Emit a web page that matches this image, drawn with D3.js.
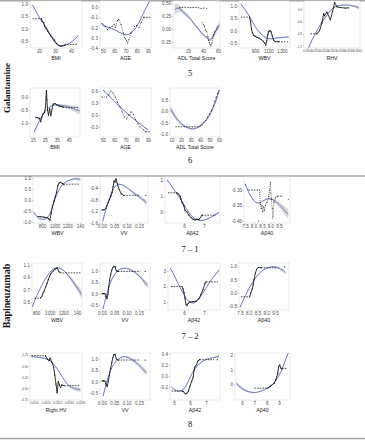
<!DOCTYPE html>
<html>
<head>
<meta charset="utf-8">
<script src="https://cdn.jsdelivr.net/npm/d3@7"></script>
<style>
  body { margin: 0; background: #fff; }
</style>
</head>
<body>
<div id="chart"></div>
<script>
// ---------- dades llegides del gràfic ----------
// fit = [x, y, banda], obs = línia negra, dash = trams discontinus, pts = punts solts

// Galantamine 5
const fit_5_bmi = [[16,0.95,0.05],[18,0.72],[20,0.48],[22,0.28],[24,0.1],[26,-0.12],[28,-0.35],[30,-0.55],[32,-0.67],[34,-0.7],[36,-0.68],[38,-0.62],[40,-0.55],[42,-0.45],[44.5,-0.28,0.05]];
const obs_5_bmi = [[21.5,0.4],[22,0.3],[23,0.25],[23.5,0.1],[24.5,0.0],[25.5,-0.1],[26.5,-0.2],[27.5,-0.3],[28.5,-0.38],[29.5,-0.45],[31,-0.6],[32.5,-0.68],[34,-0.7],[36,-0.66]];
const dash_5_bmi = [[[16,0.4],[21.5,0.4]], [[36,-0.65],[44,-0.63]]];

const fit_5_age = [[49,-0.17,0.015],[55,-0.2],[60,-0.22],[65,-0.25],[70,-0.27],[74,-0.26],[78,-0.22],[82,-0.15],[86,-0.06],[90,0.03],[92,0.07,0.02]];
const obs_5_age = [[49,-0.16],[52,-0.19],[54,-0.22],[56,-0.2],[58,-0.19],[60,-0.17],[61,-0.2],[63,-0.13],[64,-0.12],[66,-0.17],[68,-0.25],[69,-0.3],[70,-0.31],[71,-0.33],[72,-0.35],[73,-0.32],[75,-0.25],[78,-0.19],[80,-0.18],[82,-0.2],[84,-0.15],[86,-0.1]];
const dash_5_age = [[[86,-0.1],[92,-0.1]]];

const fit_5_adl = [[2,0.37,0.1],[5,0.4,0.09],[9,0.39,0.07],[13,0.34,0.05],[17,0.28,0.04],[21,0.23,0.03],[25,0.16,0.03],[29,0.08,0.03],[33,0.02,0.03],[37,-0.06,0.03],[41,-0.12,0.03],[45,-0.17,0.03],[49,-0.21,0.03],[52,-0.18,0.04],[55,-0.1,0.05],[58,-0.02,0.06],[62,0.08,0.07]];
const obs_5_adl = [[41,0.08],[42,0.05],[43,-0.02],[45,-0.05],[46.5,-0.15],[47.5,-0.22],[48.5,-0.27],[49.5,-0.3],[50.5,-0.33],[52,-0.28],[54,-0.12],[56,-0.05],[58,0.0],[60,0.04]];
const dash_5_adl = [[[8,0.41],[16,0.42],[24,0.41],[32,0.42],[38,0.39],[43,0.41]]];
const pts_5_adl = [[45,0.4],[39,0.12]];

const fit_5_wbv = [[690,1.08,0.04],[740,0.9],[790,0.7],[840,0.47],[890,0.22],[940,0.02],[990,-0.13],[1040,-0.25],[1100,-0.32],[1160,-0.32],[1240,-0.29],[1320,-0.27],[1400,-0.25,0.03]];
const obs_5_wbv = [[820,0.55],[835,0.35],[848,0.05],[862,-0.08],[880,-0.18],[900,-0.22],[930,-0.27],[960,-0.3],[990,-0.35],[1020,-0.42],[1045,-0.5],[1060,-0.58],[1075,-0.4],[1090,-0.15],[1105,-0.03],[1125,0.0],[1140,-0.05],[1155,-0.2],[1175,-0.38],[1200,-0.44],[1250,-0.45]];
const dash_5_wbv = [[[690,0.55],[820,0.55]], [[1250,-0.45],[1350,-0.45]]];
const pts_5_wbv = [[1385,-0.45]];

const fit_5_rhv = [[0.0011,-1.25,0.06],[0.0013,-1.0],[0.0015,-0.8],[0.0017,-0.6],[0.0019,-0.42],[0.0021,-0.27],[0.0023,-0.12],[0.0025,0.0],[0.0027,0.08],[0.003,0.12],[0.0033,0.13],[0.0036,0.12],[0.0039,0.08,0.04],[0.0041,0.04,0.06]];
const obs_5_rhv = [[0.0016,-0.8],[0.00175,-0.7],[0.0019,-0.45],[0.002,-0.15],[0.00205,-0.22],[0.0022,-0.1],[0.0024,-0.35],[0.0026,0.05],[0.00265,0.22],[0.0028,0.07],[0.003,0.05],[0.0033,0.03],[0.0035,0.04]];
const dash_5_rhv = [[[0.0012,-0.8],[0.0016,-0.8]]];

// Galantamine 6
const fit_6_bmi = [[16,-1.35,0.06],[19,-1.05],[22,-0.78],[25,-0.57],[28,-0.42],[31,-0.33],[34,-0.3],[37,-0.31,0.04],[40,-0.33,0.05],[43,-0.36,0.07],[46,-0.4,0.09],[49,-0.45,0.11],[52,-0.5,0.13],[54,-0.53,0.14]];
const obs_6_bmi = [[17.5,-0.78],[19,-0.8],[20.5,-0.82],[21.5,-0.95],[22.5,-0.78],[23.5,-0.65],[24.5,-0.6],[25.5,-0.4],[26,0.0],[26.3,0.25],[26.7,-0.1],[27.3,-0.5],[28,-0.7],[29,-0.45],[30,-0.72],[31,-0.45],[32,-0.27],[33.5,-0.25],[35,-0.3],[37,-0.35],[40,-0.38]];
const dash_6_bmi = [[[40,-0.4],[53,-0.4]]];

const fit_6_age = [[50,0.62,0.03],[54,0.52],[58,0.4],[62,0.29],[66,0.18],[70,0.08],[74,-0.02],[78,-0.11],[82,-0.2],[86,-0.29],[90,-0.37,0.03]];
const obs_6_age = [[49,0.45],[53,0.45],[55,0.5],[57,0.6],[59,0.55],[61,0.45],[63,0.32],[65,0.22],[67,0.08],[69,-0.05],[71,-0.1],[73,0.0],[75,0.08],[77,0.02],[79,-0.12],[81,-0.22],[83,-0.3],[86,-0.37],[88,-0.42]];
const dash_6_age = [[[88,-0.42],[92,-0.42]]];

const fit_6_adl = [[9,0.1,0.14],[12,-0.1,0.12],[15,-0.3,0.1],[18,-0.45,0.08],[21,-0.57,0.06],[24,-0.66,0.05],[27,-0.72,0.04],[30,-0.76,0.04],[33,-0.77,0.04],[36,-0.74,0.04],[39,-0.67,0.04],[42,-0.58,0.04],[45,-0.45,0.04],[48,-0.3,0.05],[51,-0.1,0.05],[54,0.17,0.06],[57,0.5,0.07],[60,0.9,0.08]];
const obs_6_adl = [[40,-0.65],[42,-0.6],[44,-0.5],[46,-0.4],[48,-0.25],[50,-0.1],[52,0.05],[54,0.25],[55.5,0.45],[57,0.62],[58.5,0.8],[60,0.92]];
const dash_6_adl = [[[14,-0.68],[40,-0.68]]];

// Bapineuzumab 7-1
const fit_71_wbv = [[670,-0.55,0.06],[710,-0.72],[760,-0.84],[810,-0.88],[860,-0.85],[910,-0.7],[955,-0.4],[1000,0.0],[1050,0.35],[1100,0.6],[1150,0.76],[1200,0.86],[1260,0.93],[1320,0.96,0.05],[1380,0.95,0.07],[1405,0.93,0.08]];
const obs_71_wbv = [[740,-0.75],[780,-0.76],[830,-0.78],[880,-0.8],[905,-0.85],[925,-0.92],[945,-0.6],[965,-0.3],[990,-0.05],[1010,0.15],[1030,0.35],[1050,0.65],[1070,0.78],[1095,0.8],[1120,0.75],[1140,0.72]];
const dash_71_wbv = [[[1140,0.72],[1390,0.72]]];

const fit_71_vv = [[0.003,-1.55,0.04],[0.012,-1.25],[0.022,-0.98],[0.032,-0.72],[0.042,-0.5],[0.052,-0.36],[0.062,-0.29],[0.072,-0.27],[0.085,-0.3],[0.1,-0.38,0.03],[0.115,-0.48,0.04],[0.13,-0.58,0.05],[0.145,-0.67,0.06],[0.16,-0.76,0.07],[0.18,-0.9,0.09]];
const obs_71_vv = [[0.0,-1.15],[0.008,-1.15],[0.015,-1.1],[0.02,-1.0],[0.025,-0.9],[0.03,-0.8],[0.036,-0.68],[0.041,-0.55],[0.045,-0.35],[0.049,-0.15],[0.053,-0.2],[0.057,-0.08],[0.062,-0.25],[0.07,-0.45],[0.078,-0.6],[0.088,-0.65]];
const dash_71_vv = [[[0.088,-0.65],[0.15,-0.65]]];
const pts_71_vv = [[0.178,-0.65]];

const fit_71_ab42 = [[5.15,2.0,0.08],[5.35,1.68],[5.55,1.3],[5.75,0.95],[5.95,0.55],[6.15,0.15],[6.35,-0.2],[6.55,-0.42],[6.75,-0.52],[6.95,-0.52],[7.15,-0.45],[7.35,-0.33],[7.55,-0.18],[7.75,-0.03,0.06]];
const obs_71_ab42 = [[5.65,1.2],[5.7,1.15],[5.8,1.0],[5.85,0.8],[5.9,0.6],[5.95,0.5],[6.0,0.35],[6.05,0.1],[6.15,0.0],[6.25,-0.2],[6.35,-0.35],[6.45,-0.45],[6.55,-0.5],[6.65,-0.45],[6.75,-0.48],[6.9,-0.2]];
const dash_71_ab42 = [[[5.2,1.2],[5.65,1.2]], [[6.9,-0.2],[7.6,-0.2]]];

const fit_71_ab40 = [[7.5,-0.28,0.006],[7.7,-0.305],[7.9,-0.325],[8.1,-0.338],[8.3,-0.342],[8.5,-0.337],[8.7,-0.331],[8.9,-0.328,0.004],[9.1,-0.33,0.005],[9.3,-0.337,0.006],[9.5,-0.347,0.008],[9.7,-0.358,0.011],[9.9,-0.37,0.014],[10.05,-0.378,0.016]];
const obs_71_ab40 = [[8.35,-0.3],[8.4,-0.345],[8.45,-0.36],[8.5,-0.35],[8.55,-0.37],[8.6,-0.355],[8.65,-0.365],[8.7,-0.35],[8.8,-0.34],[8.9,-0.32],[8.95,-0.3],[9.0,-0.275],[9.02,-0.31],[9.05,-0.33],[9.1,-0.36],[9.15,-0.385],[9.2,-0.34],[9.3,-0.325],[9.4,-0.32]];
const dash_71_ab40 = [[[7.7,-0.3],[8.35,-0.3]], [[9.4,-0.32],[9.75,-0.32]]];
const pts_71_ab40 = [[8.3,-0.4],[10.05,-0.33],[9.12,-0.39]];

// Bapineuzumab 7-2
const fit_72_wbv = [[745,0.42,0.03],[790,0.55],[840,0.67],[890,0.78],[940,0.88],[990,0.96],[1040,1.02],[1090,1.05],[1140,1.05],[1190,1.02],[1240,0.97],[1290,0.9,0.03],[1340,0.83,0.04],[1390,0.75,0.05],[1440,0.67,0.06],[1465,0.62,0.07]];
const obs_72_wbv = [[870,0.57],[890,0.6],[905,0.65],[920,0.68],[940,0.74],[960,0.8],[980,0.86],[1000,0.92],[1020,0.96],[1050,1.0],[1080,1.03],[1110,1.05],[1130,1.0],[1150,0.98]];
const dash_72_wbv = [[[780,0.56],[870,0.56]], [[1150,0.97],[1450,0.97]]];

const fit_72_vv = [[0.004,-0.68,0.04],[0.015,-0.2],[0.025,0.2],[0.035,0.5],[0.045,0.73],[0.055,0.9],[0.065,1.02],[0.08,1.1],[0.095,1.12],[0.11,1.08,0.04],[0.125,1.0,0.05],[0.14,0.88,0.06],[0.155,0.73,0.08],[0.17,0.55,0.1],[0.185,0.35,0.12]];
const obs_72_vv = [[0.0,0.0],[0.006,0.0],[0.012,0.0],[0.016,-0.12],[0.02,-0.22],[0.024,-0.05],[0.027,0.3],[0.031,0.6],[0.035,0.85],[0.04,1.05],[0.044,1.15],[0.048,1.2],[0.053,1.18],[0.058,1.0],[0.065,0.98]];
const dash_72_vv = [[[0.065,0.98],[0.155,0.98]]];
const pts_72_vv = [[0.175,0.98]];

const fit_72_ab42 = [[5.3,3.2,0.06],[5.5,2.75],[5.7,2.2],[5.9,1.7],[6.1,1.25],[6.3,0.98],[6.5,0.95],[6.7,1.15],[6.9,1.5],[7.1,1.9],[7.3,2.3],[7.5,2.65],[7.75,3.05,0.08]];
const obs_72_ab42 = [[5.9,2.0],[5.95,1.85],[6.0,1.6],[6.05,1.2],[6.1,0.85],[6.15,0.75],[6.2,0.9],[6.3,1.0],[6.45,1.02],[6.6,1.05],[6.75,1.2],[6.85,1.5],[6.95,1.8],[7.05,2.2],[7.1,2.3]];
const dash_72_ab42 = [[[5.35,2.0],[5.9,2.0]], [[7.1,2.3],[7.7,2.3]]];

const fit_72_ab40 = [[7.5,-0.55,0.05],[7.7,-0.25],[7.9,0.02],[8.1,0.27],[8.3,0.48],[8.5,0.66],[8.7,0.8],[8.9,0.9],[9.1,0.95],[9.3,0.98],[9.5,0.98,0.04],[9.7,0.94,0.05],[9.9,0.87,0.06],[10.1,0.76,0.07]];
const obs_72_ab40 = [[8.05,-0.15],[8.12,0.0],[8.2,0.15],[8.25,0.3],[8.3,0.5],[8.38,0.75],[8.45,0.9],[8.55,0.96],[8.7,0.95]];
const dash_72_ab40 = [[[7.55,-0.15],[8.05,-0.15]], [[8.7,0.95],[9.65,0.95]]];
const pts_72_ab40 = [[10.05,0.98]];

// Bapineuzumab 8
const fit_8_rhv = [[0.00138,0.22,0.02],[0.0015,0.21],[0.0018,0.19],[0.0021,0.15],[0.0023,0.07],[0.0025,-0.06],[0.0027,-0.22],[0.0029,-0.38],[0.0031,-0.47,0.03],[0.0033,-0.51,0.04],[0.0035,-0.53,0.05]];
const obs_8_rhv = [[0.002,0.23],[0.00208,0.16],[0.00215,0.12],[0.0022,0.18],[0.00228,0.08],[0.00235,-0.02],[0.0024,-0.2],[0.00245,-0.4],[0.0025,-0.6],[0.00255,-0.35],[0.0026,-0.42],[0.00265,-0.48],[0.0027,-0.42],[0.0028,-0.44]];
const dash_8_rhv = [[[0.0014,0.24],[0.002,0.23]], [[0.0028,-0.44],[0.0035,-0.44]]];

const fit_8_vv = [[0.004,-0.65,0.04],[0.012,-0.3],[0.02,0.02],[0.03,0.35],[0.04,0.62],[0.05,0.8],[0.06,0.93],[0.075,1.05],[0.09,1.1],[0.105,1.07,0.04],[0.12,0.98,0.05],[0.135,0.86,0.07],[0.15,0.72,0.09],[0.165,0.56,0.11],[0.18,0.38,0.13]];
const obs_8_vv = [[0.0,0.03],[0.006,0.03],[0.012,0.02],[0.017,-0.12],[0.021,-0.22],[0.025,0.0],[0.03,0.3],[0.035,0.6],[0.04,0.85],[0.044,1.05],[0.048,1.18],[0.053,1.2],[0.058,1.0],[0.065,0.95]];
const dash_8_vv = [[[0.065,0.95],[0.155,0.95]]];
const pts_8_vv = [[0.175,0.95]];

const fit_8_ab42 = [[4.85,-0.2,0.03],[5.05,-0.25],[5.25,-0.27],[5.45,-0.26],[5.65,-0.22],[5.85,-0.12],[6.05,0.0],[6.25,0.1],[6.45,0.18],[6.65,0.23],[6.9,0.28],[7.2,0.31],[7.5,0.33],[7.8,0.35,0.03]];
const obs_8_ab42 = [[5.5,-0.27],[5.6,-0.28],[5.7,-0.32],[5.8,-0.31],[5.9,-0.27],[6.0,-0.18],[6.1,-0.1],[6.2,-0.02],[6.25,0.1],[6.3,0.16],[6.4,0.2],[6.5,0.27],[6.6,0.29]];
const dash_8_ab42 = [[[4.85,-0.27],[5.5,-0.27]], [[6.6,0.29],[7.5,0.29]]];
const pts_8_ab42 = [[7.7,0.29]];

const fit_8_ab40 = [[5.55,0.05,0.15],[5.9,-0.25,0.12],[6.3,-0.45,0.08],[6.7,-0.56,0.05],[7.1,-0.58,0.04],[7.5,-0.5,0.03],[7.9,-0.35,0.03],[8.3,-0.15,0.03],[8.6,0.1,0.03],[8.9,0.45,0.04],[9.2,0.95,0.05],[9.5,1.6,0.06],[9.75,2.15,0.07]];
const obs_8_ab40 = [[8.1,-0.28],[8.3,-0.15],[8.6,0.05],[8.75,0.3],[8.9,0.75],[8.97,1.2],[9.05,1.32],[9.15,1.1],[9.25,1.05]];
const dash_8_ab40 = [[[7.0,-0.28],[8.1,-0.28]], [[9.25,1.08],[9.6,1.08]]];

// etiquetes dels eixos
const xt_5_bmi = ["20","30","40"], yt_5_bmi = ["1.0","0.5","0.0","-0.5"];
const xt_age = ["50","60","70","80","90"];
const yt_5_age = ["0.0","-0.1","-0.2","-0.3","-0.4"];
const xt_5_adl = ["20","40","60"], yt_5_adl = ["0.50","0.25","0.00","-0.25"];
const xt_5_wbv = ["900","1100","1300"], yt_5_wbv = ["1.0","0.5","0.0","-0.5"];
const xt_5_rhv = ["0.0010","0.0015","0.0020","0.0025","0.0030","0.0035","0.0040"], yt_5_rhv = ["0.0","-0.4","-0.8","-1.2"];
const xt_6_bmi = ["15","25","35","45"], yt_6_bmi = ["0.0","-0.5","-1.0"];
const yt_6_age = ["0.6","0.3","0.0","-0.3"];
const xt_6_adl = ["10","20","30","40","50","60"], yt_6_adl = ["0.5","0.0","-0.5","-1.0"];
const xt_wbv = ["800","1000","1200","140"], xv_wbv = [800, 1000, 1200, 1400];
const xt_vv = ["0.00","0.05","0.10","0.15"];
const xt_ab40 = ["7.5","8.0","8.5","9.0","9.5"];
const yt_71_wbv = ["1.0","0.5","0.0","-0.5","-1.0"], yt_71_vv = ["-0.4","-0.8","-1.2","-1.6"];
const xt_71_ab42 = ["6","7"], yt_71_ab42 = ["2","1","0"], yt_71_ab40 = ["-0.30","-0.35","-0.40"];
const yt_72_wbv = ["1.1","0.9","0.7","0.5"], yt_vv = ["1.0","0.5","0.0","-0.5"];
const yt_72_ab42 = ["3","2","1"], yt_72_ab40 = ["1.0","0.5","0.0","-0.5"];
const xt_8_rhv = ["0.0015","0.0020","0.0025","0.0030","0.0035"], yt_8_rhv = ["0.25","0.00","-0.25","-0.50","-0.75"];
const xt_8_ab42 = ["5","6","7"], yt_8_ab42 = ["0.4","0.2","0.0","-0.2"];
const xt_8_ab40 = ["6","7","8","9"], yt_8_ab40 = ["2","1","0"];

const rowLabels = ["5", "6", "7 – 1", "7 – 2", "8"];
const drugLabels = ["Galantamine", "Bapineuzumab"];

// ---------- taula de panells ----------
const R1 = [1, 48], R2 = [88, 137], R3 = [177, 223], R4 = [263, 310], R5 = [353, 400];
const panels = [
  { bx: [30, 82], by: R1, xd: [14.4, 46.9], yd: [-0.78, 1.12], xt: xt_5_bmi, yt: yt_5_bmi, title: "BMI", fit: fit_5_bmi, obs: obs_5_bmi, dash: dash_5_bmi },
  { bx: [100, 151], by: R1, xd: [47.3, 92.7], yd: [-0.4, 0.06], xt: xt_age, yt: yt_5_age, title: "AGE", fit: fit_5_age, obs: obs_5_age, dash: dash_5_age, dotted: true },
  { bx: [173, 220], by: R1, xd: [0, 62.7], yd: [-0.37, 0.54], xt: xt_5_adl, yt: yt_5_adl, title: "ADL Total Score", fit: fit_5_adl, obs: obs_5_adl, dash: dash_5_adl, pts: pts_5_adl, dotted: true },
  { bx: [239, 290], by: R1, xd: [663, 1419], yd: [-0.7, 1.2], xt: xt_5_wbv, yt: yt_5_wbv, title: "WBV", fit: fit_5_wbv, obs: obs_5_wbv, dash: dash_5_wbv, pts: pts_5_wbv },
  { bx: [304, 360], by: R1, xd: [0.00082, 0.00418], yd: [-1.26, 0.26], xt: xt_5_rhv, yt: yt_5_rhv, title: "RHV", fit: fit_5_rhv, obs: obs_5_rhv, dash: dash_5_rhv, tiny: true },

  { bx: [30, 80], by: R2, xd: [12.6, 54.3], yd: [-1.54, 0.35], xt: xt_6_bmi, yt: yt_6_bmi, title: "BMI", fit: fit_6_bmi, obs: obs_6_bmi, dash: dash_6_bmi },
  { bx: [100, 151], by: R2, xd: [47.3, 92.7], yd: [-0.55, 0.675], xt: xt_age, yt: yt_6_age, title: "AGE", fit: fit_6_age, obs: obs_6_age, dash: dash_6_age, dotted: true },
  { bx: [170, 220], by: R2, xd: [8.4, 61], yd: [-1.13, 1.03], xt: xt_6_adl, yt: yt_6_adl, title: "ADL Total Score", fit: fit_6_adl, obs: obs_6_adl, dash: dash_6_adl, dotted: true },

  { bx: [33, 82], by: R3, xd: [658, 1432], yd: [-1.045, 1.045], xt: xt_wbv, xv: xv_wbv, yt: yt_71_wbv, title: "WBV", fit: fit_71_wbv, obs: obs_71_wbv, dash: dash_71_wbv },
  { bx: [100, 148], by: R3, xd: [-0.0081, 0.1865], yd: [-1.6, -0.02], xt: xt_vv, yt: yt_71_vv, title: "VV", fit: fit_71_vv, obs: obs_71_vv, dash: dash_71_vv, pts: pts_71_vv },
  { bx: [165, 220], by: R3, xd: [5.05, 7.8], yd: [-0.69, 2.19], xt: xt_71_ab42, yt: yt_71_ab42, title: "Aβ42", fit: fit_71_ab42, obs: obs_71_ab42, dash: dash_71_ab42 },
  { bx: [244, 290], by: R3, xd: [7.44, 10.15], yd: [-0.4065, -0.258], xt: xt_ab40, yt: yt_71_ab40, title: "Aβ40", fit: fit_71_ab40, obs: obs_71_ab40, dash: dash_71_ab40, pts: pts_71_ab40, dotted: true },

  { bx: [32, 82], by: R4, xd: [741, 1473], yd: [0.37, 1.13], xt: xt_wbv, xv: xv_wbv, yt: yt_72_wbv, title: "WBV", fit: fit_72_wbv, obs: obs_72_wbv, dash: dash_72_wbv },
  { bx: [100, 150], by: R4, xd: [-0.0081, 0.1946], yd: [-0.72, 1.35], xt: xt_vv, yt: yt_vv, title: "VV", fit: fit_72_vv, obs: obs_72_vv, dash: dash_72_vv, pts: pts_72_vv },
  { bx: [168, 220], by: R4, xd: [5.2, 7.8], yd: [0.48, 3.52], xt: xt_71_ab42, yt: yt_72_ab42, title: "Aβ42", fit: fit_72_ab42, obs: obs_72_ab42, dash: dash_72_ab42 },
  { bx: [239, 289], by: R4, xd: [7.44, 10.3], yd: [-0.65, 1.13], xt: xt_ab40, yt: yt_72_ab40, title: "Aβ40", fit: fit_72_ab40, obs: obs_72_ab40, dash: dash_72_ab40, pts: pts_72_ab40 },

  { bx: [30, 82], by: R5, xd: [0.001333, 0.003571], yd: [-0.76, 0.294], xt: xt_8_rhv, yt: yt_8_rhv, title: "Right HV", fit: fit_8_rhv, obs: obs_8_rhv, dash: dash_8_rhv, tiny: true },
  { bx: [100, 150], by: R5, xd: [-0.0081, 0.1946], yd: [-0.81, 1.26], xt: xt_vv, yt: yt_vv, title: "VV", fit: fit_8_vv, obs: obs_8_vv, dash: dash_8_vv, pts: pts_8_vv },
  { bx: [170, 220], by: R5, xd: [4.75, 7.875], yd: [-0.43, 0.41], xt: xt_8_ab42, yt: yt_8_ab42, title: "Aβ42", fit: fit_8_ab42, obs: obs_8_ab42, dash: dash_8_ab42, pts: pts_8_ab42 },
  { bx: [235, 290], by: R5, xd: [5.43, 9.89], yd: [-1.1, 2.14], xt: xt_8_ab40, yt: yt_8_ab40, title: "Aβ40", fit: fit_8_ab40, obs: obs_8_ab40, dash: dash_8_ab40 }
];

// ---------- dibuix ----------
const sans = "'Liberation Sans', Arial, sans-serif";
const serif = "'Liberation Serif', 'Times New Roman', serif";

const svg = d3.select("#chart")
  .append("svg")
    .attr("width", 365)
    .attr("height", 440);

// línies separadores
[0.75, 176, 438.5].forEach(yy => {
  svg.append("line")
    .attr("x1", 0).attr("x2", 365)
    .attr("y1", yy).attr("y2", yy)
    .attr("stroke", "#a6a6a6")
    .attr("stroke-width", 1.3);
});

const defs = svg.append("defs");

panels.forEach((p, i) => {
  const x = d3.scaleLinear().domain(p.xd).range(p.bx);
  const y = d3.scaleLinear().domain(p.yd).range([p.by[1], p.by[0]]);
  const seDef = 0.012 * (p.yd[1] - p.yd[0]);
  const g = svg.append("g");

  defs.append("clipPath").attr("id", "clip" + i)
    .append("rect")
      .attr("x", p.bx[0]).attr("y", p.by[0])
      .attr("width", p.bx[1] - p.bx[0]).attr("height", p.by[1] - p.by[0]);

  g.append("rect")
    .attr("x", p.bx[0]).attr("y", p.by[0])
    .attr("width", p.bx[1] - p.bx[0]).attr("height", p.by[1] - p.by[0])
    .attr("fill", "#fff")
    .attr("stroke", "#dcdcdc")
    .attr("stroke-width", 0.6);

  const body = g.append("g").attr("clip-path", `url(#clip${i})`);

  // banda de confiança
  body.append("path")
    .datum(p.fit)
    .attr("d", d3.area()
      .x(d => x(d[0]))
      .y0(d => y(d[1] - (d[2] ?? seDef)))
      .y1(d => y(d[1] + (d[2] ?? seDef)))
      .curve(d3.curveNatural))
    .attr("fill", "#c4c4c4")
    .attr("opacity", 0.65);

  // corba ajustada
  body.append("path")
    .datum(p.fit)
    .attr("d", d3.line().x(d => x(d[0])).y(d => y(d[1])).curve(d3.curveNatural))
    .attr("fill", "none")
    .attr("stroke", "#5569c8")
    .attr("stroke-width", 0.85);

  const line = d3.line().x(d => x(d[0])).y(d => y(d[1]));

  // trams discontinus
  (p.dash || []).forEach(seg => {
    body.append("path")
      .datum(seg)
      .attr("d", line)
      .attr("fill", "none")
      .attr("stroke", "#111")
      .attr("stroke-width", 0.75)
      .attr("stroke-dasharray", "1.6,1.1");
  });

  // línia negra observada
  body.append("path")
    .datum(p.obs)
    .attr("d", line)
    .attr("fill", "none")
    .attr("stroke", "#111")
    .attr("stroke-width", p.dotted ? 0.55 : 0.85)
    .attr("stroke-dasharray", p.dotted ? "1,1" : null);

  body.selectAll(".pt")
    .data(p.obs.concat(p.pts || []))
    .enter()
    .append("circle")
      .attr("cx", d => x(d[0]))
      .attr("cy", d => y(d[1]))
      .attr("r", p.dotted ? 0.5 : 0.6)
      .attr("fill", "#111");

  // eixos
  const fs = p.tiny ? 3 : 4.6;
  const xv = p.xv || p.xt.map(Number);
  const yv = p.yt.map(Number);

  const ax = g.append("g")
    .attr("transform", `translate(0,${p.by[1]})`)
    .call(d3.axisBottom(x).tickValues(xv).tickFormat((d, k) => p.xt[k]).tickSize(1.2).tickPadding(0.8));
  const ay = g.append("g")
    .attr("transform", `translate(${p.bx[0]},0)`)
    .call(d3.axisLeft(y).tickValues(yv).tickFormat((d, k) => p.yt[k]).tickSize(1.2).tickPadding(0.8));

  [ax, ay].forEach(a => {
    a.select(".domain").remove();
    a.selectAll(".tick line").attr("stroke", "#9a9a9a").attr("stroke-width", 0.5);
    a.selectAll("text")
      .attr("font-size", fs)
      .attr("fill", "#4d4d4d")
      .attr("font-family", sans);
  });

  g.append("text")
    .attr("x", (p.bx[0] + p.bx[1]) / 2)
    .attr("y", p.by[1] + 12.3)
    .attr("text-anchor", "middle")
    .attr("font-family", sans)
    .attr("font-size", 5.3)
    .attr("fill", "#1a1a1a")
    .text(p.title);
});

// etiquetes de fila
const rowY = [76, 163, 252, 339, 427];
rowLabels.forEach((t, k) => {
  svg.append("text")
    .attr("x", 190)
    .attr("y", rowY[k])
    .attr("text-anchor", "middle")
    .attr("font-family", serif)
    .attr("font-size", 8.5)
    .attr("fill", "#111")
    .text(t);
});

// noms dels fàrmacs (verticals)
const drugY = [88, 296];
const drugSize = [9, 10];
drugLabels.forEach((t, k) => {
  svg.append("text")
    .attr("transform", `translate(10,${drugY[k]}) rotate(-90)`)
    .attr("text-anchor", "middle")
    .attr("font-family", serif)
    .attr("font-weight", "bold")
    .attr("font-size", drugSize[k])
    .attr("fill", "#111")
    .text(t);
});
</script>
</body>
</html>
